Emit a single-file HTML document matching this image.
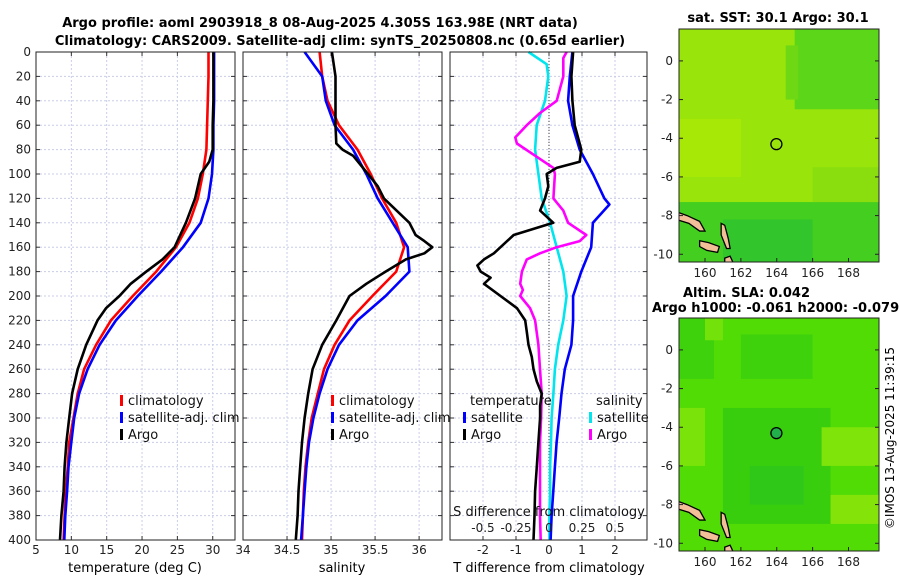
<!DOCTYPE html>
<html><head><meta charset="utf-8">
<style>
body{margin:0;background:#fff;}
svg{display:block;font-family:"DejaVu Sans","Liberation Sans",sans-serif;}
</style></head>
<body>
<svg id="fig" width="900" height="580" viewBox="0 0 900 580" xmlns="http://www.w3.org/2000/svg">
<rect width="900" height="580" fill="#fff"/>
<text x="320" y="27" text-anchor="middle" font-size="13" font-weight="bold">Argo profile: aoml 2903918_8 08-Aug-2025 4.305S 163.98E (NRT data)</text>
<text x="340" y="45" text-anchor="middle" font-size="13" font-weight="bold">Climatology: CARS2009. Satellite-adj clim: synTS_20250808.nc (0.65d earlier)</text>
<g id="plots"></g>
<text x="135" y="572" text-anchor="middle" font-size="13">temperature (deg C)</text>
<text x="342" y="572" text-anchor="middle" font-size="13">salinity</text>
<text x="549" y="572" text-anchor="middle" font-size="13">T difference from climatology</text>
<text x="778" y="22" text-anchor="middle" font-size="13" font-weight="bold">sat. SST: 30.1 Argo: 30.1</text>
<text x="683" y="297" font-size="13" font-weight="bold">Altim. SLA: 0.042</text>
<text x="652" y="312" font-size="13" font-weight="bold">Argo h1000: -0.061 h2000: -0.079</text>
<text transform="translate(894,438) rotate(-90)" text-anchor="middle" font-size="12">©IMOS 13-Aug-2025 11:39:15</text>
</svg>
<script>
// depth-profile data
const tDepths = [0,20,40,60,80,100,120,140,160,180,200,220,240,260,280,300,320,340,360,380,400];
const tempClim = [29.4,29.4,29.3,29.2,29.1,28.6,27.9,26.7,24.8,22.0,18.7,15.6,13.5,11.8,10.9,10.3,9.7,9.5,9.2,9.05,8.9];
const tempSat  = [30.2,30.2,30.2,30.1,30.1,29.9,29.4,28.3,25.8,22.7,19.4,16.3,14.0,12.3,11.1,10.4,10.0,9.6,9.4,9.15,9.0];
const argoDepths = [0,20,40,60,80,90,100,120,140,160,170,180,190,200,210,220,240,260,280,300,320,340,360,380,400];
const tempArgo = [30.1,30.1,30.1,30.0,30.0,29.5,28.3,27.5,26.2,24.6,22.9,20.6,18.4,16.8,14.9,13.7,12.1,10.9,10.1,9.7,9.3,9.05,8.9,8.6,8.4];
const salClim = [34.87,34.9,34.96,35.09,35.3,35.45,35.58,35.74,35.83,35.74,35.47,35.21,35.04,34.92,34.85,34.78,34.74,34.71,34.69,34.68,34.67];
const salSat  = [34.7,34.9,34.94,35.04,35.25,35.4,35.53,35.7,35.87,35.89,35.62,35.3,35.09,34.96,34.87,34.8,34.75,34.72,34.7,34.68,34.66];
const salArgoDepths = [0,20,40,60,75,80,85,100,110,120,140,150,155,160,165,170,180,190,200,220,240,260,280,300,320,340,360,380,400];
const salArgo = [35.01,35.05,35.05,35.05,35.06,35.13,35.25,35.42,35.53,35.6,35.89,35.96,36.06,36.15,36.06,35.85,35.62,35.4,35.21,35.06,34.9,34.79,34.74,34.7,34.67,34.65,34.63,34.62,34.6];
// difference panel
const tdArgoDepths = [0,20,40,60,80,90,95,100,110,120,130,135,140,145,150,155,160,165,170,175,180,185,190,200,210,220,230,240,250,260,270,280,290,300,320,340,360,380,400];
const tdArgo = [0.73,0.68,0.71,0.78,0.98,0.93,0.23,-0.07,-0.02,-0.12,-0.27,-0.07,0.13,-0.47,-1.07,-1.27,-1.47,-1.67,-1.97,-2.17,-2.07,-1.77,-1.97,-1.47,-0.97,-0.72,-0.67,-0.62,-0.52,-0.47,-0.37,-0.22,-0.27,-0.27,-0.32,-0.37,-0.42,-0.44,-0.47];
const tdSatDepths = [0,20,40,60,80,100,120,125,140,160,180,200,220,240,260,280,300,320,340,360,380,400];
const tdSat = [0.71,0.63,0.58,0.71,0.93,1.33,1.68,1.83,1.33,1.28,0.98,0.73,0.73,0.68,0.48,0.38,0.31,0.23,0.18,0.13,0.08,0.05];
const sdSatDepths = [0,10,20,40,60,80,100,120,140,160,180,200,220,240,260,280,300,320,340,360,380,400];
const sdSat = [-0.155,-0.018,-0.005,-0.03,-0.093,-0.105,-0.08,-0.055,0.008,0.058,0.108,0.133,0.108,0.07,0.045,0.033,0.02,0.015,0.008,0.008,0.003,0.003];
const sdArgoDepths = [0,5,20,40,50,60,70,75,85,95,100,120,130,140,150,155,160,165,170,180,190,195,200,210,220,240,260,280,300,320,340,360,380,400];
const sdArgo = [0.133,0.108,0.108,0.058,-0.068,-0.168,-0.255,-0.243,-0.105,0.033,0.045,0.033,0.108,0.145,0.283,0.233,0.058,-0.068,-0.168,-0.205,-0.218,-0.198,-0.218,-0.143,-0.105,-0.08,-0.068,-0.055,-0.06,-0.068,-0.068,-0.068,-0.068,-0.063];
const depthTicks = [0,20,40,60,80,100,120,140,160,180,200,220,240,260,280,300,320,340,360,380,400];
const tempTicks = [5,10,15,20,25,30];
const salTicks = [34,34.5,35,35.5,36];
const tdTicks = [-2,-1,0,1,2];
const sdTicks = [-0.5,-0.25,0,0.25,0.5];
const sdTickLabels = ['-0.5','-0.25','0','0.25','0.5'];

const NS='http://www.w3.org/2000/svg';
const root=document.getElementById('plots');
function mk(tag,attrs,parent){const e=document.createElementNS(NS,tag);for(const k in attrs)e.setAttribute(k,attrs[k]);(parent||root).appendChild(e);return e;}
const Y0=52,Y1=540;
const yD=d=>Y0+(Y1-Y0)*d/400;
function panel(name,x0,x1,xmin,xmax,xticks,xlabels,ylabels){
  const g=mk('g',{});
  
  
  const xs=v=>x0+(x1-x0)*(v-xmin)/(xmax-xmin);
  depthTicks.forEach(d=>{const y=yD(d);
    if(d>0&&d<400){const l=mk('line',{x1:x0,x2:x1,y1:y,y2:y,stroke:'#c8cde8','stroke-width':1,'stroke-dasharray':'2,2'},g);
      }
    mk('line',{x1:x0,x2:x0+4,y1:y,y2:y,stroke:'#333'},g);
    mk('line',{x1:x1,x2:x1-4,y1:y,y2:y,stroke:'#333'},g);
    if(ylabels){const t=mk('text',{x:x0-5,y:y+4,'text-anchor':'end','font-size':12,fill:'#222'},g);t.textContent=d;
      }
  });
  xticks.forEach((v,i)=>{const x=xs(v);
    if(x>x0+1&&x<x1-1){const l=mk('line',{x1:x,x2:x,y1:Y0,y2:Y1,stroke:'#c8cde8','stroke-width':1,'stroke-dasharray':'2,2'},g);
      }
    mk('line',{x1:x,x2:x,y1:Y1,y2:Y1-4,stroke:'#333'},g);
    mk('line',{x1:x,x2:x,y1:Y0,y2:Y0+4,stroke:'#333'},g);
    if(xlabels){const t=mk('text',{x:x,y:554,'text-anchor':'middle','font-size':12,fill:'#222'},g);t.textContent=xlabels[i];
      }
  });
  return {g,xs};
}
function line(p,depths,vals,color,name,conv){
  const pts=depths.map((d,i)=>p.xs(conv?conv(vals[i]):vals[i]).toFixed(1)+','+yD(d).toFixed(1)).join(' ');
  const e=mk('polyline',{points:pts,fill:'none',stroke:color,'stroke-width':2.6,'stroke-linejoin':'round'},p.g);
  
  
}
function frame(p,x0,x1){mk('rect',{x:x0,y:Y0,width:x1-x0,height:Y1-Y0,fill:'none',stroke:'#222','stroke-width':1},p.g);}
function legend(p,x,y,items,title){
  if(title){const t=mk('text',{x:x+7,y:y-17,'font-size':13,fill:'#111'},p.g);t.textContent=title;
    }
  items.forEach((it,i)=>{const yy=y+i*17;
    mk('rect',{x:x,y:yy-10,width:3,height:11,fill:it[1]},p.g);
    const t=mk('text',{x:x+8,y:yy,'font-size':13,fill:'#111'},p.g);t.textContent=it[0];
    });
}
const p1=panel('temperature-panel',36,235,5,33.15,tempTicks,tempTicks.map(String),true);
line(p1,tDepths,tempClim,'#ff0000','temp-climatology-line');
line(p1,tDepths,tempSat,'#0000ff','temp-satellite-line');
line(p1,argoDepths,tempArgo,'#000','temp-argo-line');
legend(p1,120,405,[['climatology','#f00'],['satellite-adj. clim','#00f'],['Argo','#000']]);
frame(p1,36,235);
const p2=panel('salinity-panel',243,442,34,36.26,salTicks,salTicks.map(String),false);
line(p2,tDepths,salClim,'#ff0000','sal-climatology-line');
line(p2,tDepths,salSat,'#0000ff','sal-satellite-line');
line(p2,salArgoDepths,salArgo,'#000','sal-argo-line');
legend(p2,331,405,[['climatology','#f00'],['satellite-adj. clim','#00f'],['Argo','#000']]);
frame(p2,243,442);
const p3=panel('difference-panel',450,647,-3,2.97,tdTicks,tdTicks.map(String),false);
mk('line',{x1:p3.xs(0),x2:p3.xs(0),y1:Y0,y2:Y1,stroke:'#444','stroke-width':1,'stroke-dasharray':'1,2'},p3.g);
line(p3,sdSatDepths,sdSat,'#00e5ee','sdiff-satellite-line',v=>v*4);
line(p3,sdArgoDepths,sdArgo,'#ff00ff','sdiff-argo-line',v=>v*4);
line(p3,tdSatDepths,tdSat,'#0000ff','tdiff-satellite-line');
line(p3,tdArgoDepths,tdArgo,'#000','tdiff-argo-line');
legend(p3,463,422,[['satellite','#00f'],['Argo','#000']],'temperature');
legend(p3,589,422,[['satellite','#00e5ee'],['Argo','#f0f']],'salinity');
{const t=mk('text',{x:549,y:516,'text-anchor':'middle','font-size':13,fill:'#111'},p3.g);t.textContent='S difference from climatology';
 }
sdTicks.forEach((v,i)=>{const t=mk('text',{x:p3.xs(v*4),y:532,'text-anchor':'middle','font-size':12,fill:'#222'},p3.g);t.textContent=sdTickLabels[i];
 });
frame(p3,450,647);

const lonTicks=[160,162,164,166,168];
const latTicks=[0,-2,-4,-6,-8,-10];
function map(name,top,bottom,base,blobs,filled){
  const g=mk('g',{});
  
  
  const L=679,R=879,lonMin=158.55,lonMax=169.7,latMax=top.lat,latMin=-10.4;
  const mx=lo=>L+(R-L)*(lo-lonMin)/(lonMax-lonMin);
  const my=la=>top.y+(bottom-top.y)*(latMax-la)/(latMax-latMin);
  const cid='clip'+name;
  const cp=mk('clipPath',{id:cid},g);mk('rect',{x:L,y:top.y,width:R-L,height:bottom-top.y},cp);
  const inner=mk('g',{'clip-path':'url(#'+cid+')'},g);
  mk('rect',{x:L,y:top.y,width:R-L,height:bottom-top.y,fill:base},inner);
  blobs.forEach(b=>{mk('rect',{x:mx(b[0]),y:my(b[3]),width:mx(b[1])-mx(b[0]),height:my(b[2])-my(b[3]),fill:b[4]},inner);});
  const isl=[[[158.4,-7.8],[159.0,-8.0],[159.7,-8.3],[160.0,-8.8],[159.7,-8.8],[159.1,-8.4],[158.4,-8.2]],
             [[160.9,-8.4],[161.1,-8.5],[161.3,-9.2],[161.4,-9.7],[161.2,-9.7],[160.9,-9.0]],
             [[159.7,-9.3],[160.2,-9.4],[160.8,-9.6],[160.7,-9.9],[160.1,-9.8],[159.7,-9.6]],
             [[161.1,-10.2],[161.4,-10.1],[161.6,-10.5],[161.1,-10.5]]];
  isl.forEach(poly=>{const e=mk('polygon',{points:poly.map(p=>mx(p[0])+','+my(p[1])).join(' '),fill:'#f2bf98',stroke:'#000','stroke-width':1.3},inner);
    });
  const c=mk('circle',{cx:mx(163.98),cy:my(-4.305),r:5.5,fill:filled?'#22b04a':'none',stroke:'#000','stroke-width':1.3},g);
  
  mk('rect',{x:L,y:top.y,width:R-L,height:bottom-top.y,fill:'none',stroke:'#222'},g);
  lonTicks.forEach(v=>{const x=mx(v);mk('line',{x1:x,x2:x,y1:bottom,y2:bottom-4,stroke:'#222'},g);
    const t=mk('text',{x:x,y:bottom+15,'text-anchor':'middle','font-size':12,fill:'#222'},g);t.textContent=v;
    });
  latTicks.forEach(v=>{const y=my(v);mk('line',{x1:L,x2:L+4,y1:y,y2:y,stroke:'#222'},g);mk('line',{x1:R,x2:R-4,y1:y,y2:y,stroke:'#222'},g);
    const t=mk('text',{x:L-6,y:y+4,'text-anchor':'end','font-size':12,fill:'#222'},g);t.textContent=v;
    });
}
map('sst-map',{y:29,lat:1.65},262,'#99e40a',[
  [165,169.7,-2.5,1.7,'#5cd618'],[164.5,165.2,-2,0.8,'#6ed814'],[158.5,162,-6,-3,'#a8e806'],
  [158.5,169.7,-10.5,-7.3,'#44cf20'],[161,166,-10.5,-8.2,'#33c52c'],[166,169.7,-7.3,-5.5,'#8ade0e']],false);
map('sla-map',{y:318,lat:1.65},551,'#52dc06',[
  [158.5,160.5,-1.5,1.7,'#3ed20c'],[162,166,-1.5,0.8,'#3ed20c'],[161,167,-9,-3,'#38ce0e'],[162.5,165.5,-8,-6,'#2fc818'],
  [158.5,160,-6,-3,'#7ae40a'],[166.5,169.7,-6,-4,'#7ee40a'],[167,169.7,-9,-7.5,'#84e40a'],[160,161,0.5,1.7,'#72e20a']],true);
</script>
</body></html>
